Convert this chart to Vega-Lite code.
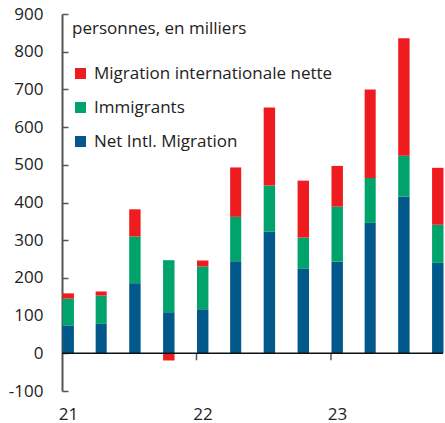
{
  "$schema": "https://vega.github.io/schema/vega-lite/v6.json",
  "width": 381,
  "height": 377,
  "autosize": {"type": "none"},
  "padding": {"left": 62, "top": 14, "right": 2, "bottom": 32},
  "config": {
    "view": {"stroke": null},
    "font": "Open Sans",
    "axis": {"labelFont": "Open Sans", "labelFontSize": 17, "labelColor": "#222222", "grid": false, "title": null, "labelOverlap": false},
    "axisY": {
      "labelOverlap": false,
      "ticks": true,
      "domainColor": "#555555",
      "domainWidth": 2,
      "tickColor": "#555555",
      "tickWidth": 1.5,
      "tickSize": -6,
      "labelPadding": 25
    },
    "axisX": {
      "labelOverlap": false,
      "domain": false,
      "ticks": false,
      "labelOffset": 6,
      "labelPadding": 15,
      "labelFlush": false
    },
    "legend": {"labelFont": "Open Sans", "titleFont": "Open Sans"}
  },
  "datasets": {
    "bars": [
      {"quarter": "2021-01-15", "series": "Net Intl. Migration", "value": 74},
      {"quarter": "2021-01-15", "series": "Immigrants", "value": 71},
      {"quarter": "2021-01-15", "series": "Migration internationale nette", "value": 14},
      {"quarter": "2021-04-15", "series": "Net Intl. Migration", "value": 78},
      {"quarter": "2021-04-15", "series": "Immigrants", "value": 75},
      {"quarter": "2021-04-15", "series": "Migration internationale nette", "value": 11},
      {"quarter": "2021-07-15", "series": "Net Intl. Migration", "value": 186},
      {"quarter": "2021-07-15", "series": "Immigrants", "value": 124},
      {"quarter": "2021-07-15", "series": "Migration internationale nette", "value": 72},
      {"quarter": "2021-10-15", "series": "Net Intl. Migration", "value": 109},
      {"quarter": "2021-10-15", "series": "Immigrants", "value": 138},
      {"quarter": "2021-10-15", "series": "Migration internationale nette", "value": -19},
      {"quarter": "2022-01-15", "series": "Net Intl. Migration", "value": 117},
      {"quarter": "2022-01-15", "series": "Immigrants", "value": 113},
      {"quarter": "2022-01-15", "series": "Migration internationale nette", "value": 16},
      {"quarter": "2022-04-15", "series": "Net Intl. Migration", "value": 244},
      {"quarter": "2022-04-15", "series": "Immigrants", "value": 118},
      {"quarter": "2022-04-15", "series": "Migration internationale nette", "value": 131},
      {"quarter": "2022-07-15", "series": "Net Intl. Migration", "value": 323},
      {"quarter": "2022-07-15", "series": "Immigrants", "value": 122},
      {"quarter": "2022-07-15", "series": "Migration internationale nette", "value": 207},
      {"quarter": "2022-10-15", "series": "Net Intl. Migration", "value": 224},
      {"quarter": "2022-10-15", "series": "Immigrants", "value": 83},
      {"quarter": "2022-10-15", "series": "Migration internationale nette", "value": 151},
      {"quarter": "2023-01-15", "series": "Net Intl. Migration", "value": 243},
      {"quarter": "2023-01-15", "series": "Immigrants", "value": 146},
      {"quarter": "2023-01-15", "series": "Migration internationale nette", "value": 108},
      {"quarter": "2023-04-15", "series": "Net Intl. Migration", "value": 346},
      {"quarter": "2023-04-15", "series": "Immigrants", "value": 119},
      {"quarter": "2023-04-15", "series": "Migration internationale nette", "value": 235},
      {"quarter": "2023-07-15", "series": "Net Intl. Migration", "value": 416},
      {"quarter": "2023-07-15", "series": "Immigrants", "value": 108},
      {"quarter": "2023-07-15", "series": "Migration internationale nette", "value": 312},
      {"quarter": "2023-10-15", "series": "Net Intl. Migration", "value": 240},
      {"quarter": "2023-10-15", "series": "Immigrants", "value": 101},
      {"quarter": "2023-10-15", "series": "Migration internationale nette", "value": 151}
    ],
    "yearticks": [
      {"year": "2022-01-01"},
      {"year": "2023-01-01"}
    ],
    "zero": [
      {"level": 0}
    ]
  },
  "layer": [
    {
      "data": {"name": "bars"},
      "transform": [
        {"calculate": "indexof(['Net Intl. Migration','Immigrants','Migration internationale nette'], datum.series)", "as": "stackorder"}
      ],
      "mark": {"type": "bar", "binSpacing": 0},
      "encoding": {
        "x": {
          "field": "quarter",
          "type": "temporal",
          "timeUnit": "yearmonth",
          "scale": {"domain": [{"year": 2021, "month": 1, "date": 1}, {"year": 2023, "month": 11, "date": 1}]},
          "axis": {
            "values": [{"year": 2021, "month": 1, "date": 1}, {"year": 2022, "month": 1, "date": 1}, {"year": 2023, "month": 1, "date": 1}],
            "format": "%y",
            "formatType": "time",
            "labelOverlap": false
          }
        },
        "y": {
          "field": "value",
          "type": "quantitative",
          "stack": "zero",
          "scale": {"domain": [-100, 900], "nice": false, "zero": false},
          "axis": {
            "values": [-100, 0, 100, 200, 300, 400, 500, 600, 700, 800, 900],
            "labelExpr": "'' + datum.value",
            "labelOverlap": false,
            "tickCount": 11
          }
        },
        "color": {
          "field": "series",
          "type": "nominal",
          "scale": {
            "domain": ["Migration internationale nette", "Immigrants", "Net Intl. Migration"],
            "range": ["#EE1C1F", "#00A36A", "#00598A"]
          },
          "legend": {
            "title": "personnes, en milliers",
            "orient": "none",
            "legendX": 10,
            "legendY": 7,
            "padding": 0,
            "titleFontSize": 17,
            "titleFontWeight": "normal",
            "titleColor": "#222222",
            "titlePadding": 27,
            "labelFontSize": 17,
            "labelColor": "#222222",
            "labelLimit": 400,
            "symbolType": "square",
            "symbolSize": 121,
            "symbolStrokeWidth": 0,
            "symbolOpacity": 1,
            "labelOffset": 5,
            "rowPadding": 16
          }
        },
        "order": {"field": "stackorder", "type": "quantitative", "sort": "ascending"}
      }
    },
    {
      "data": {"name": "zero"},
      "mark": {"type": "rule", "stroke": "#111111", "strokeWidth": 1.5},
      "encoding": {
        "y": {
          "field": "level",
          "type": "quantitative",
          "axis": {
            "values": [-100, 0, 100, 200, 300, 400, 500, 600, 700, 800, 900],
            "labelExpr": "'' + datum.value",
            "labelOverlap": false,
            "tickCount": 11
          }
        }
      }
    },
    {
      "data": {"name": "yearticks"},
      "mark": {"type": "tick", "orient": "vertical", "color": "#111111", "thickness": 1.5, "size": 7, "yOffset": 3.5},
      "encoding": {
        "x": {
          "field": "year",
          "type": "temporal",
          "axis": {
            "values": [{"year": 2021, "month": 1, "date": 1}, {"year": 2022, "month": 1, "date": 1}, {"year": 2023, "month": 1, "date": 1}],
            "format": "%y",
            "formatType": "time",
            "labelOverlap": false
          }
        },
        "y": {
          "datum": 0,
          "axis": {
            "values": [-100, 0, 100, 200, 300, 400, 500, 600, 700, 800, 900],
            "labelExpr": "'' + datum.value",
            "labelOverlap": false,
            "tickCount": 11
          }
        }
      }
    }
  ]
}
